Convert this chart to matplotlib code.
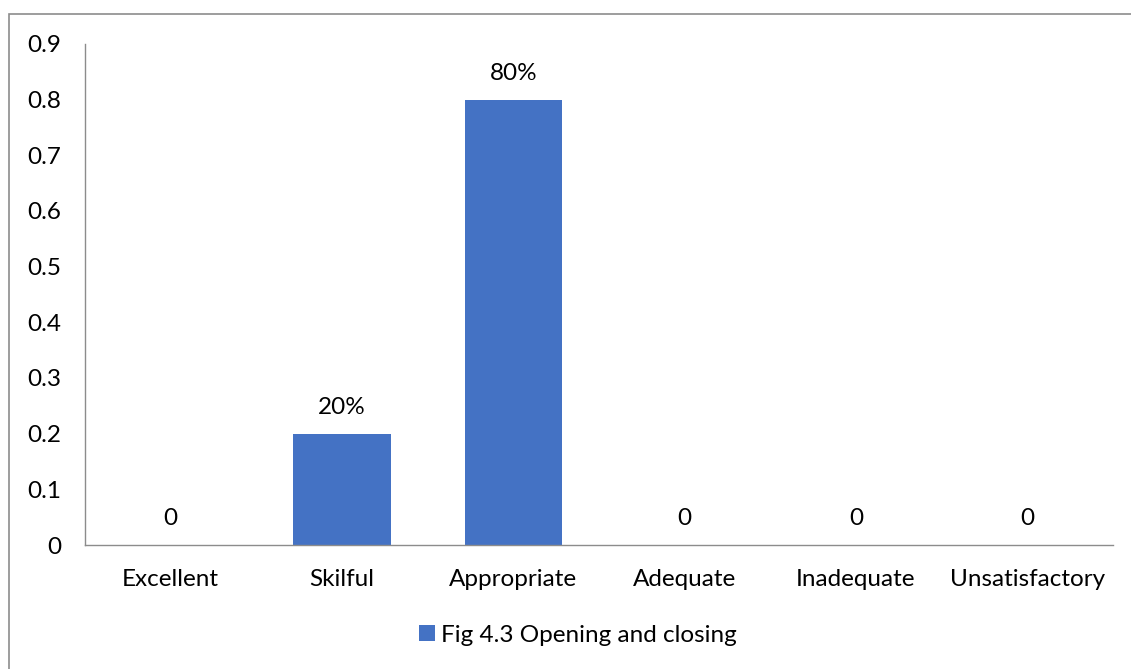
import matplotlib
matplotlib.use("Agg")
import matplotlib.pyplot as plt
from matplotlib.patches import Rectangle

categories = ["Excellent", "Skilful", "Appropriate", "Adequate", "Inadequate", "Unsatisfactory"]
values = [0, 0.2, 0.8, 0, 0, 0]
value_labels = ["0", "20%", "80%", "0", "0", "0"]
series_name = "Fig 4.3 Opening and closing"
yticks = [0, 0.1, 0.2, 0.3, 0.4, 0.5, 0.6, 0.7, 0.8, 0.9]

plt.rcParams['font.family'] = ['Lato', 'DejaVu Sans']
FS = 17.5

W, H = 1131, 669
fig = plt.figure(figsize=(W / 100, H / 100), dpi=100)
fig.patch.set_facecolor("white")

# outer chart border (top and left visible)
fig.patches.append(Rectangle((9 / W, -0.1), 1.2, 1 - 14 / H + 0.1, transform=fig.transFigure,
                             fill=False, edgecolor="#8c8c8c", linewidth=1.2))

ax = fig.add_axes([85 / W, (H - 545) / H, (1113 - 85) / W, (545 - 44) / H])
x = list(range(len(categories)))
bars = ax.bar(x, values, width=0.57, color="#4472C4", label=series_name)
ax.set_xlim(-0.5, len(categories) - 0.5)
ax.set_ylim(0, 0.9)
ax.set_yticks(yticks)
ax.set_yticklabels([f"{t:g}" for t in yticks], fontsize=FS)
ax.set_xticks(x)
ax.set_xticklabels(categories, fontsize=FS)
ax.tick_params(axis="both", length=0, colors="#000000")
ax.tick_params(axis="y", pad=17)
ax.tick_params(axis="x", pad=17.5)
for s in ["top", "right"]:
    ax.spines[s].set_visible(False)
for s in ["left", "bottom"]:
    ax.spines[s].set_color("#8c8c8c")
    ax.spines[s].set_linewidth(1.0)

for xi, v, lab in zip(x, values, value_labels):
    ax.annotate(lab, (xi, v), xytext=(0, 19), textcoords="offset points",
                ha="center", va="center", fontsize=FS)

leg = fig.legend(handles=[bars], labels=[series_name], loc="center",
                 bbox_to_anchor=(578 / W, 1 - 635 / H), frameon=False, fontsize=FS,
                 handlelength=0.65, handleheight=0.65, handletextpad=0.25)

fig.savefig("out.png", dpi=100, facecolor="white")
